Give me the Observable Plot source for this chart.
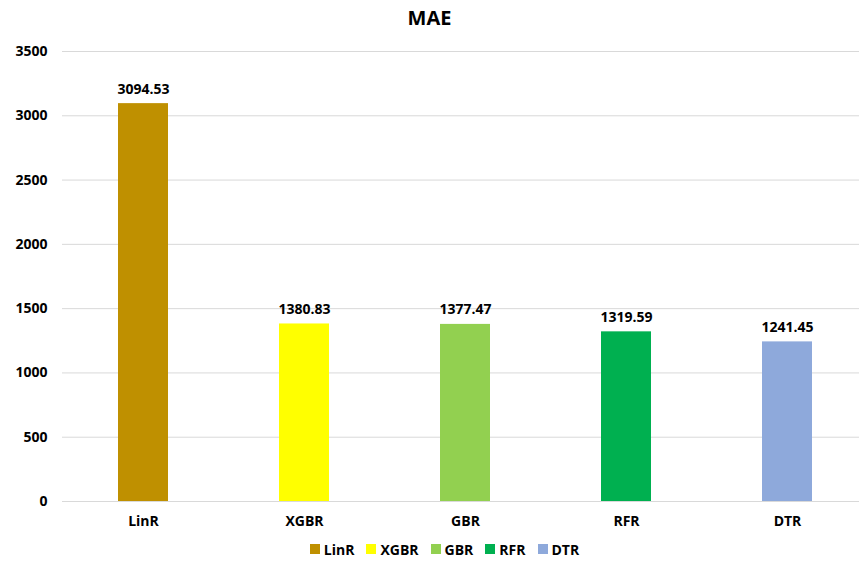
<!DOCTYPE html>
<html>
<head>
<meta charset="utf-8">
<script src="https://cdn.jsdelivr.net/npm/d3@7"></script>
<script src="https://cdn.jsdelivr.net/npm/@observablehq/plot@0.6"></script>
<style>
  body { margin: 0; background: #fff; font-family: "Open Sans", sans-serif; }
  #title { height: 36px; line-height: 36px; text-align: center; font-size: 20px; font-weight: 700; color: #000; }
  #legend { display: flex; justify-content: center; gap: 12px; font-size: 14px; font-weight: 700; color: #000; height: 26px; align-items: center; padding-left: 30px; }
  #legend span.sw { display: inline-block; width: 10px; height: 10px; margin-right: 4px; }
  #legend div { display: flex; align-items: center; }
</style>
</head>
<body>
<div id="title">MAE</div>
<div id="chart"></div>
<div id="legend"></div>
<script>
const models = ["LinR", "XGBR", "GBR", "RFR", "DTR"];
const mae = [3094.53, 1380.83, 1377.47, 1319.59, 1241.45];
const colors = ["#BF9000", "#FFFF00", "#92D050", "#00B050", "#8EA9DB"];
const yTicks = [0, 500, 1000, 1500, 2000, 2500, 3000, 3500];

const data = models.map((m, i) => ({model: m, value: mae[i]}));

const chart = Plot.plot({
  width: 859,
  height: 500,
  marginTop: 15,
  marginBottom: 35,
  marginLeft: 62,
  marginRight: 0,
  style: {fontFamily: "'Open Sans', sans-serif", fontSize: "14px", fontWeight: 700, color: "#000", background: "#fff"},
  x: {domain: models, range: [62.5, 867.5], paddingInner: 0.69, paddingOuter: 0.345, align: 0.5, label: null},
  y: {domain: [0, 3500], label: null},
  color: {domain: models, range: colors},
  marks: [
    Plot.ruleY(yTicks, {stroke: "#d9d9d9", strokeWidth: 1}),
    Plot.barY(data, {x: "model", y: "value", fill: "model"}),
    Plot.text(data, {x: "model", y: "value", text: d => d.value.toFixed(2), lineAnchor: "bottom", dy: -10, fontSize: 14, fontWeight: 700, fill: "#000"}),
    Plot.axisY({ticks: yTicks, tickFormat: "d", tickSize: 0, tickPadding: 15, label: null, fontSize: 14, fontWeight: 700}),
    Plot.axisX({tickSize: 0, tickPadding: 15, label: null, fontSize: 14, fontWeight: 700})
  ]
});
document.getElementById("chart").appendChild(chart);

const legend = document.getElementById("legend");
models.forEach((m, i) => {
  const item = document.createElement("div");
  item.innerHTML = `<span class="sw" style="background:${colors[i]}"></span>${m}`;
  legend.appendChild(item);
});
</script>
</body>
</html>
